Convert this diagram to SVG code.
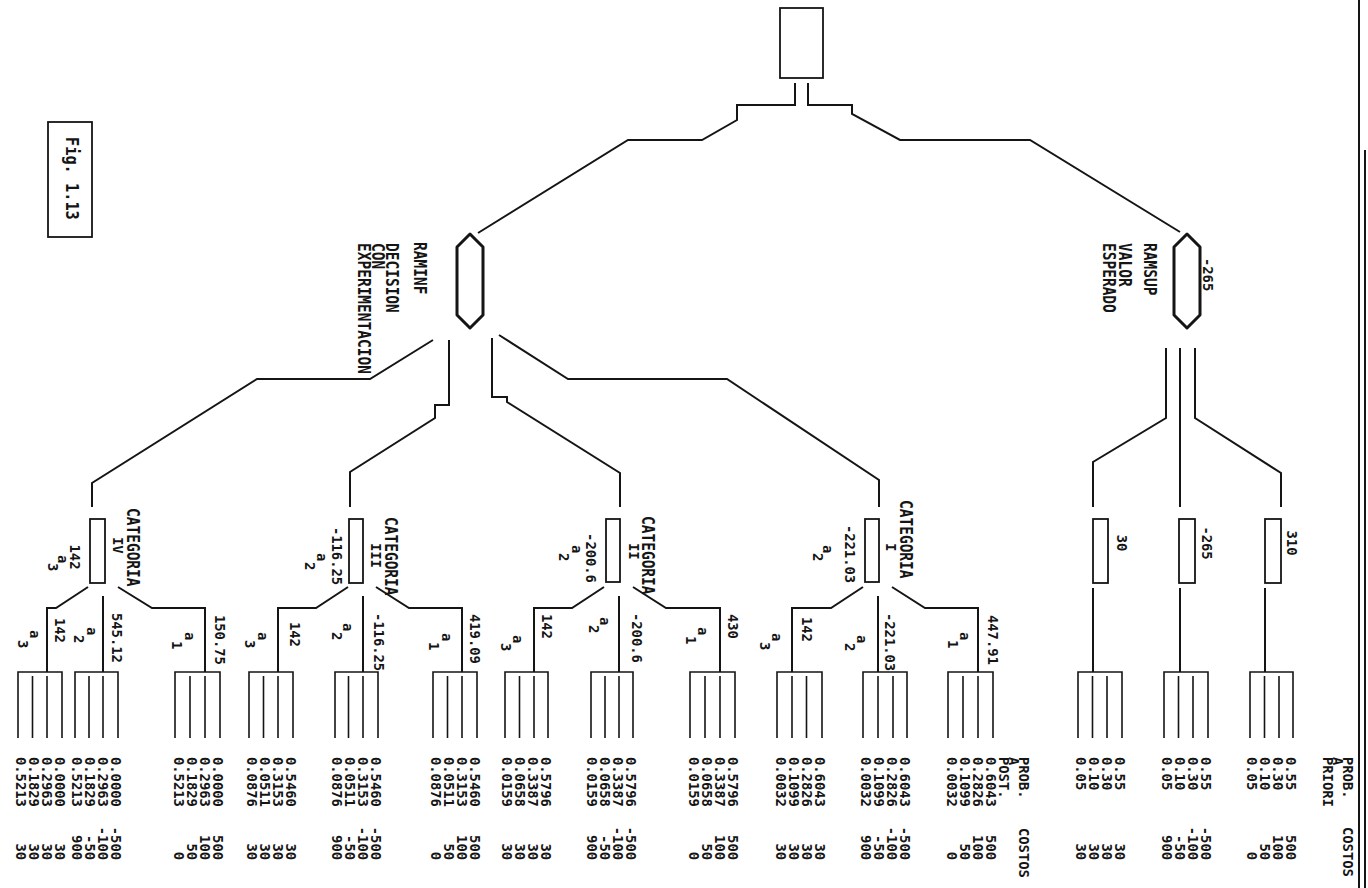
<svg xmlns="http://www.w3.org/2000/svg" width="1368" height="888" viewBox="0 0 1368 888">
<style>
.s{font-family:"DejaVu Sans Mono","Liberation Mono",monospace;font-size:13.8px;font-weight:bold;fill:#151515}
.e{text-anchor:end}
.m{text-anchor:middle}
.h{font-family:"DejaVu Sans Mono","Liberation Mono",monospace;font-size:14.5px;font-weight:bold;fill:#151515}
.ln{fill:none;stroke:#151515;stroke-width:2;stroke-linejoin:miter}
.tm{fill:none;stroke:#151515;stroke-width:1.6}
.bx{fill:#fff;stroke:#151515;stroke-width:1.8}
.ch{fill:#fff;stroke:#151515;stroke-width:3;stroke-linejoin:round}
</style>
<rect width="1368" height="888" fill="#fff"/>

<g id="border" class="ln">
<path d="M1359,0V888M1365,150V888"/>
</g>

<g id="fig-label">
<rect class="bx" x="48" y="122" width="44" height="115"/>
<text class="s" style="font-size:15.3px" transform="rotate(90) translate(137,-66) scale(1,1.2)">Fig. 1.13</text>
</g>

<g id="connectors" class="ln">
<path d="M795,83V105H737V120L702,140H628L478,233"/>
<path d="M808,83V105H852V114L900,140H1030L1180,232"/>
<path d="M1166,348V418L1093,462V507"/>
<path d="M1180,348V507"/>
<path d="M1195,348V418L1281,473V507"/>
<path d="M1093,588V672M1180,588V672M1265,588V672"/>
<path d="M433,340L370,379H257L92,483V507"/>
<path d="M449,340V405H435V418L350,472V507"/>
<path d="M492,338V397H507V402L620,473V507"/>
<path d="M499,335L568,379H727L879,480V507"/>
<path d="M863,587L831,608H792V672M878,596V672M892,587L925,608H978V672"/>
<path d="M604,587L572,608H534V672M619,596V672M633,587L666,608H720V672"/>
<path d="M348,587L316,608H278V672M363,596V672M376,587L409,608H462V672"/>
<path d="M88,587L56,608H47V672M103,596V672M118,587L152,608H205V672"/>
</g>

<g id="root">
<rect class="bx" x="780" y="8" width="43" height="70"/>
</g>

<g id="ramsup">
<polygon class="ch" points="1187,234 1200,247 1200,315 1187,328 1174,315 1174,247"/>
<text class="s" transform="rotate(90)" x="258" y="-1203">-265</text>
<text class="h" transform="rotate(90) translate(243,-1144) scale(1,1.25)">RAMSUP</text>
<text class="h" transform="rotate(90) translate(243,-1119) scale(1,1.25)">VALOR</text>
<text class="h" transform="rotate(90) translate(243,-1103) scale(1,1.25)">ESPERADO</text>
</g>

<g id="raminf">
<polygon class="ch" points="470,234 483,247 483,315 470,328 457,315 457,247"/>
<text class="h" transform="rotate(90) translate(242,-414) scale(1,1.25)">RAMINF</text>
<text class="h" transform="rotate(90) translate(243,-386) scale(1,1.25)">DECISION</text>
<text class="h" transform="rotate(90) translate(243,-372) scale(1,1.25)">CON</text>
<text class="h" transform="rotate(90) translate(243,-358) scale(1,1.25)">EXPERIMENTACION</text>
</g>

<g id="sup-a3">
<rect class="bx" x="1093" y="519" width="15" height="64"/>
<text class="s m" transform="rotate(90)" x="543" y="-1117">30</text>
</g>
<g id="sup-a2">
<rect class="bx" x="1179" y="519" width="16" height="64"/>
<text class="s m" transform="rotate(90)" x="543" y="-1202">-265</text>
</g>
<g id="sup-a1">
<rect class="bx" x="1265" y="519" width="16" height="64"/>
<text class="s m" transform="rotate(90)" x="543" y="-1287">310</text>
</g>

<g id="cat-1">
<rect class="bx" x="865" y="519" width="14" height="63"/>
<text class="h" transform="rotate(90) translate(500,-900) scale(1,1.25)">CATEGORIA</text>
<g class="s" transform="rotate(90)">
<text x="543" y="-886">I</text>
<text class="m" x="554" y="-845">-221.03</text>
<text x="545" y="-823">a</text>
<text x="553" y="-813">2</text>
<text x="615" y="-988">447.91</text><text x="632" y="-960">a</text><text x="640" y="-948">1</text>
<text x="613" y="-885">-221.03</text><text x="635" y="-857">a</text><text x="643" y="-845">2</text>
<text x="617" y="-802">142</text><text x="633" y="-772">a</text><text x="642" y="-760">3</text>
</g>
</g>

<g id="cat-2">
<rect class="bx" x="606" y="519" width="14" height="63"/>
<text class="h" transform="rotate(90) translate(516,-642) scale(1,1.25)">CATEGORIA</text>
<g class="s" transform="rotate(90)">
<text x="543" y="-629">II</text>
<text class="m" x="558" y="-586">-200.6</text>
<text x="545" y="-572">a</text>
<text x="553" y="-559">2</text>
<text x="614" y="-728">430</text><text x="627" y="-698">a</text><text x="636" y="-686">1</text>
<text x="613" y="-632">-200.6</text><text x="617" y="-600">a</text><text x="625" y="-589">2</text>
<text x="614" y="-542">142</text><text x="635" y="-513">a</text><text x="643" y="-501">3</text>
</g>
</g>

<g id="cat-3">
<rect class="bx" x="349" y="519" width="14" height="64"/>
<text class="h" transform="rotate(90) translate(517,-385) scale(1,1.25)">CATEGORIA</text>
<g class="s" transform="rotate(90)">
<text x="543" y="-371">III</text>
<text class="m" x="556" y="-332">-116.25</text>
<text x="553" y="-317">a</text>
<text x="562" y="-305">2</text>
<text x="614" y="-470">419.09</text><text x="633" y="-442">a</text><text x="642" y="-429">1</text>
<text x="613" y="-374">-116.25</text><text x="623" y="-343">a</text><text x="632" y="-332">2</text>
<text x="622" y="-290">142</text><text x="632" y="-258">a</text><text x="640" y="-245">3</text>
</g>
</g>

<g id="cat-4">
<rect class="bx" x="90" y="519" width="15" height="64"/>
<text class="h" transform="rotate(90) translate(508,-127) scale(1,1.25)">CATEGORIA</text>
<g class="s" transform="rotate(90)">
<text x="537" y="-113">IV</text>
<text class="m" x="557" y="-70">142</text>
<text x="555" y="-58">a</text>
<text x="563" y="-48">3</text>
<text x="615" y="-215">150.75</text><text x="632" y="-185">a</text><text x="641" y="-172">1</text>
<text x="613" y="-112">545.12</text><text x="627" y="-87">a</text><text x="635" y="-74">2</text>
<text x="618" y="-55">142</text><text x="630" y="-30">a</text><text x="640" y="-18">3</text>
</g>
</g>

<g id="headers" class="s">
<g transform="rotate(90)">
<text x="757" y="-1343">PROB.</text><text x="757" y="-1333">A</text><text x="757" y="-1323">PRIORI</text>
<text x="827" y="-1343">COSTOS</text>
<text x="757" y="-1019">PROB.</text><text x="757" y="-1009">A</text><text x="757" y="-999">POST.</text>
<text x="828" y="-1019">COSTOS</text>
</g>
</g>

<g id="term-sup-a1">
<path class="tm" d="M1250,738V672H1293V738M1264.5,676V738M1279,676V738"/>
<g transform="rotate(90)" class="s">
<text><tspan x="757" y="-1286">0.55</tspan><tspan x="757" y="-1273">0.30</tspan><tspan x="757" y="-1260">0.10</tspan><tspan x="757" y="-1247">0.05</tspan></text>
<text class="e"><tspan x="860" y="-1286">500</tspan><tspan x="860" y="-1273">100</tspan><tspan x="860" y="-1260">50</tspan><tspan x="860" y="-1247">0</tspan></text>
</g>
</g>
<g id="term-sup-a2">
<path class="tm" d="M1164,738V672H1208V738M1178.5,676V738M1193,676V738"/>
<g transform="rotate(90)" class="s">
<text><tspan x="757" y="-1201">0.55</tspan><tspan x="757" y="-1188">0.30</tspan><tspan x="757" y="-1175">0.10</tspan><tspan x="757" y="-1162">0.05</tspan></text>
<text class="e"><tspan x="860" y="-1201">-500</tspan><tspan x="860" y="-1188">-100</tspan><tspan x="860" y="-1175">-50</tspan><tspan x="860" y="-1162">900</tspan></text>
</g>
</g>
<g id="term-sup-a3">
<path class="tm" d="M1078,738V672H1122V738M1092.5,676V738M1107,676V738"/>
<g transform="rotate(90)" class="s">
<text><tspan x="757" y="-1115">0.55</tspan><tspan x="757" y="-1102">0.30</tspan><tspan x="757" y="-1089">0.10</tspan><tspan x="757" y="-1076">0.05</tspan></text>
<text class="e"><tspan x="860" y="-1115">30</tspan><tspan x="860" y="-1102">30</tspan><tspan x="860" y="-1089">30</tspan><tspan x="860" y="-1076">30</tspan></text>
</g>
</g>

<g id="term-1-a1">
<path class="tm" d="M948,738V672H993V738M963,676V738M978,676V738"/>
<g transform="rotate(90)" class="s">
<text><tspan x="757" y="-986">0.6043</tspan><tspan x="757" y="-973">0.2826</tspan><tspan x="757" y="-960">0.1099</tspan><tspan x="757" y="-947">0.0032</tspan></text>
<text class="e"><tspan x="860" y="-986">500</tspan><tspan x="860" y="-973">100</tspan><tspan x="860" y="-960">50</tspan><tspan x="860" y="-947">0</tspan></text>
</g>
</g>
<g id="term-1-a2">
<path class="tm" d="M863,738V672H907V738M878,676V738M893,676V738"/>
<g transform="rotate(90)" class="s">
<text><tspan x="757" y="-900">0.6043</tspan><tspan x="757" y="-887">0.2826</tspan><tspan x="757" y="-874">0.1099</tspan><tspan x="757" y="-861">0.0032</tspan></text>
<text class="e"><tspan x="860" y="-900">-500</tspan><tspan x="860" y="-887">-100</tspan><tspan x="860" y="-874">-50</tspan><tspan x="860" y="-861">900</tspan></text>
</g>
</g>
<g id="term-1-a3">
<path class="tm" d="M777,738V672H822V738M792,676V738M806.5,676V738"/>
<g transform="rotate(90)" class="s">
<text><tspan x="757" y="-815">0.6043</tspan><tspan x="757" y="-802">0.2826</tspan><tspan x="757" y="-789">0.1099</tspan><tspan x="757" y="-776">0.0032</tspan></text>
<text class="e"><tspan x="860" y="-815">30</tspan><tspan x="860" y="-802">30</tspan><tspan x="860" y="-789">30</tspan><tspan x="860" y="-776">30</tspan></text>
</g>
</g>

<g id="term-2-a1">
<path class="tm" d="M690,738V672H735V738M705,676V738M720,676V738"/>
<g transform="rotate(90)" class="s">
<text><tspan x="757" y="-728">0.5796</tspan><tspan x="757" y="-715">0.3387</tspan><tspan x="757" y="-702">0.0658</tspan><tspan x="757" y="-689">0.0159</tspan></text>
<text class="e"><tspan x="860" y="-728">500</tspan><tspan x="860" y="-715">100</tspan><tspan x="860" y="-702">50</tspan><tspan x="860" y="-689">0</tspan></text>
</g>
</g>
<g id="term-2-a2">
<path class="tm" d="M591,738V672H633V738M605,676V738M619,676V738"/>
<g transform="rotate(90)" class="s">
<text><tspan x="757" y="-626">0.5796</tspan><tspan x="757" y="-613">0.3387</tspan><tspan x="757" y="-600">0.0658</tspan><tspan x="757" y="-587">0.0159</tspan></text>
<text class="e"><tspan x="860" y="-626">-500</tspan><tspan x="860" y="-613">-100</tspan><tspan x="860" y="-600">-50</tspan><tspan x="860" y="-587">900</tspan></text>
</g>
</g>
<g id="term-2-a3">
<path class="tm" d="M505,738V672H548V738M519.5,676V738M534,676V738"/>
<g transform="rotate(90)" class="s">
<text><tspan x="757" y="-541">0.5796</tspan><tspan x="757" y="-528">0.3387</tspan><tspan x="757" y="-515">0.0658</tspan><tspan x="757" y="-502">0.0159</tspan></text>
<text class="e"><tspan x="860" y="-541">30</tspan><tspan x="860" y="-528">30</tspan><tspan x="860" y="-515">30</tspan><tspan x="860" y="-502">30</tspan></text>
</g>
</g>

<g id="term-3-a1">
<path class="tm" d="M433,738V672H477V738M447.5,676V738M462,676V738"/>
<g transform="rotate(90)" class="s">
<text><tspan x="757" y="-470">0.5460</tspan><tspan x="757" y="-457">0.3153</tspan><tspan x="757" y="-444">0.0511</tspan><tspan x="757" y="-431">0.0876</tspan></text>
<text class="e"><tspan x="860" y="-470">500</tspan><tspan x="860" y="-457">100</tspan><tspan x="860" y="-444">50</tspan><tspan x="860" y="-431">0</tspan></text>
</g>
</g>
<g id="term-3-a2">
<path class="tm" d="M335,738V672H378V738M348.5,676V738M363,676V738"/>
<g transform="rotate(90)" class="s">
<text><tspan x="757" y="-371">0.5460</tspan><tspan x="757" y="-358">0.3153</tspan><tspan x="757" y="-345">0.0511</tspan><tspan x="757" y="-332">0.0876</tspan></text>
<text class="e"><tspan x="860" y="-371">-500</tspan><tspan x="860" y="-358">-100</tspan><tspan x="860" y="-345">-50</tspan><tspan x="860" y="-332">900</tspan></text>
</g>
</g>
<g id="term-3-a3">
<path class="tm" d="M249,738V672H293V738M263.5,676V738M278,676V738"/>
<g transform="rotate(90)" class="s">
<text><tspan x="757" y="-286">0.5460</tspan><tspan x="757" y="-273">0.3153</tspan><tspan x="757" y="-260">0.0511</tspan><tspan x="757" y="-247">0.0876</tspan></text>
<text class="e"><tspan x="860" y="-286">30</tspan><tspan x="860" y="-273">30</tspan><tspan x="860" y="-260">30</tspan><tspan x="860" y="-247">30</tspan></text>
</g>
</g>

<g id="term-4-a1">
<path class="tm" d="M175,738V672H220V738M190,676V738M205,676V738"/>
<g transform="rotate(90)" class="s">
<text><tspan x="757" y="-213">0.0000</tspan><tspan x="757" y="-200">0.2963</tspan><tspan x="757" y="-187">0.1829</tspan><tspan x="757" y="-174">0.5213</tspan></text>
<text class="e"><tspan x="860" y="-213">500</tspan><tspan x="860" y="-200">100</tspan><tspan x="860" y="-187">50</tspan><tspan x="860" y="-174">0</tspan></text>
</g>
</g>
<g id="term-4-a2">
<path class="tm" d="M75,738V672H118V738M89,676V738M103,676V738"/>
<g transform="rotate(90)" class="s">
<text><tspan x="757" y="-111">0.0000</tspan><tspan x="757" y="-98">0.2963</tspan><tspan x="757" y="-85">0.1829</tspan><tspan x="757" y="-72">0.5213</tspan></text>
<text class="e"><tspan x="860" y="-111">-500</tspan><tspan x="860" y="-98">-100</tspan><tspan x="860" y="-85">-50</tspan><tspan x="860" y="-72">900</tspan></text>
</g>
</g>
<g id="term-4-a3">
<path class="tm" d="M18,738V672H62V738M32.5,676V738M47,676V738"/>
<g transform="rotate(90)" class="s">
<text><tspan x="757" y="-55">0.0000</tspan><tspan x="757" y="-42">0.2963</tspan><tspan x="757" y="-29">0.1829</tspan><tspan x="757" y="-16">0.5213</tspan></text>
<text class="e"><tspan x="860" y="-55">30</tspan><tspan x="860" y="-42">30</tspan><tspan x="860" y="-29">30</tspan><tspan x="860" y="-16">30</tspan></text>
</g>
</g>
</svg>
